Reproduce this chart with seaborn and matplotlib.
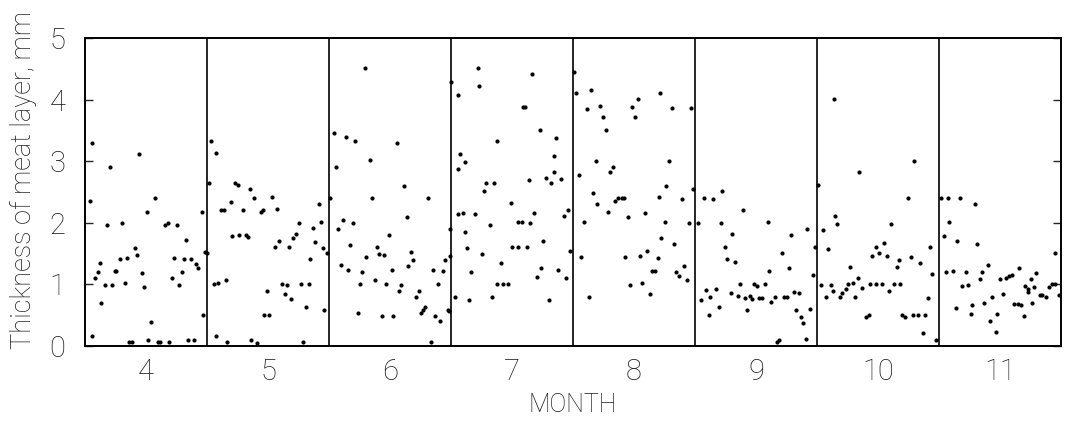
import numpy as np
import pandas as pd
import matplotlib
matplotlib.use("Agg")
import matplotlib.pyplot as plt
import seaborn as sns

# ---- data: position within month (fraction of month) and thickness (mm) ----
months = [4, 5, 6, 7, 8, 9, 10, 11]
month_labels = ["4", "5", "6", "7", "8", "9", "10", "11"]
y_ticks = [0, 1, 2, 3, 4, 5]

m4_frac = [0.055, 0.06, 0.04, 0.085, 0.107, 0.126, 0.134, 0.162, 0.181, 0.203,
           0.225, 0.244, 0.258, 0.285, 0.307, 0.326, 0.345, 0.36, 0.389, 0.408,
           0.43, 0.444, 0.468, 0.485, 0.51, 0.52, 0.54, 0.575, 0.595, 0.616,
           0.652, 0.677, 0.685, 0.712, 0.729, 0.753, 0.77, 0.792, 0.808, 0.83,
           0.844, 0.868, 0.89, 0.912, 0.93, 0.959, 0.967, 0.986]
m4_mm = [3.30, 0.16, 2.35, 1.11, 1.20, 1.34, 0.69, 0.99, 1.96, 2.90,
         0.99, 1.21, 1.22, 1.41, 1.99, 1.03, 1.43, 0.06, 0.06, 1.59,
         1.48, 3.11, 1.18, 0.96, 2.17, 0.09, 0.39, 2.41, 0.06, 0.06,
         1.96, 2.00, 0.07, 1.10, 1.43, 1.96, 0.99, 1.20, 1.42, 1.72,
         0.09, 1.41, 0.09, 1.33, 1.26, 2.17, 0.50, 1.52]

m5_frac = [0.00, 0.033, 0.073, 0.019, 0.228, 0.25, 0.193, 0.117, 0.136, 0.353,
           0.389, 0.293, 0.44, 0.457, 0.535, 0.573, 0.916, 0.75, 0.932, 0.872,
           0.209, 0.266, 0.318, 0.334, 0.731, 0.704, 0.592, 0.554, 0.674, 0.889,
           0.948, 0.984, 0.848, 0.054, 0.092, 0.152, 0.611, 0.652, 0.772, 0.832,
           0.495, 0.639, 0.69, 0.81, 0.96, 0.467, 0.51, 0.073, 0.168, 0.364,
           0.41, 0.788]
m5_mm = [1.51, 3.33, 3.13, 2.65, 2.65, 2.61, 2.34, 2.21, 2.21, 2.55,
         2.41, 2.20, 2.18, 2.21, 2.42, 2.23, 2.30, 2.00, 2.01, 1.91,
         1.78, 1.80, 1.80, 1.77, 1.82, 1.76, 1.70, 1.61, 1.61, 1.69,
         1.59, 1.51, 1.41, 1.01, 1.02, 1.07, 1.01, 0.99, 1.00, 1.00,
         0.89, 0.85, 0.76, 0.64, 0.59, 0.50, 0.50, 0.17, 0.07, 0.09,
         0.05, 0.06]

m6_frac = [0.296, 0.041, 0.139, 0.217, 0.557, 0.332, 0.057, 0.011, 0.356, 0.611,
           0.81, 0.636, 0.117, 0.196, 0.073, 0.492, 0.174, 0.391, 0.413, 0.454,
           0.307, 0.671, 0.69, 0.095, 0.152, 0.269, 0.516, 0.649, 0.851, 0.935,
           0.948, 0.989, 0.375, 0.255, 0.47, 0.592, 0.891, 0.573, 0.736, 0.715,
           0.785, 0.769, 0.75, 0.236, 0.435, 0.527, 0.872, 0.91, 0.973, 0.986,
           0.837, 0.995]
m6_mm = [4.52, 3.45, 3.40, 3.33, 3.30, 3.02, 2.91, 2.40, 2.40, 2.60,
         2.40, 2.09, 2.04, 1.99, 1.90, 1.81, 1.64, 1.60, 1.49, 1.48,
         1.44, 1.53, 1.40, 1.32, 1.24, 1.20, 1.24, 1.30, 1.24, 1.21,
         1.40, 1.46, 1.07, 1.01, 1.00, 0.99, 1.01, 0.89, 0.90, 0.79,
         0.63, 0.59, 0.53, 0.54, 0.49, 0.49, 0.49, 0.40, 0.59, 0.57,
         0.07, 1.90]

m7_frac = [0.0, 0.218, 0.226, 0.668, 0.06, 0.594, 0.61, 0.728, 0.864, 0.373,
           0.076, 0.112, 0.06, 0.847, 0.845, 0.779, 0.823, 0.902, 0.638, 0.286,
           0.349, 0.272, 0.493, 0.057, 0.095, 0.196, 0.684, 0.924, 0.962, 0.316,
           0.548, 0.578, 0.649, 0.112, 0.752, 0.134, 0.253, 0.504, 0.553, 0.621,
           0.975, 0.406, 0.163, 0.738, 0.703, 0.88, 0.943, 0.381, 0.43, 0.469,
           0.035, 0.15, 0.332, 0.804]
m7_mm = [4.28, 4.51, 4.22, 4.41, 4.08, 3.88, 3.88, 3.51, 3.38, 3.33,
         3.12, 2.98, 2.88, 3.09, 2.82, 2.72, 2.64, 2.71, 2.70, 2.65,
         2.65, 2.51, 2.32, 2.15, 2.16, 2.15, 2.16, 2.11, 2.21, 1.97,
         2.01, 2.01, 1.99, 1.85, 1.70, 1.59, 1.50, 1.61, 1.60, 1.60,
         1.54, 1.34, 1.20, 1.26, 1.12, 1.23, 1.11, 1.01, 1.01, 1.01,
         0.80, 0.74, 0.80, 0.75]

m8_frac = [0.008, 0.025, 0.148, 0.533, 0.713, 0.115, 0.221, 0.486, 0.814, 0.967,
           0.243, 0.508, 0.268, 0.186, 0.787, 0.328, 0.303, 0.049, 0.765, 0.986,
           0.164, 0.199, 0.347, 0.372, 0.399, 0.415, 0.708, 0.893, 0.29, 0.448,
           0.59, 0.09, 0.751, 0.948, 0.724, 0.825, 0.609, 0.068, 0.429, 0.549,
           0.697, 0.913, 0.648, 0.672, 0.842, 0.869, 0.934, 0.47, 0.563, 0.628,
           0.128]
m8_mm = [4.44, 4.11, 4.16, 4.01, 4.10, 3.84, 3.89, 3.88, 3.87, 3.87,
         3.71, 3.72, 3.50, 3.00, 3.01, 2.90, 2.82, 2.77, 2.60, 2.55,
         2.49, 2.30, 2.35, 2.40, 2.41, 2.41, 2.42, 2.39, 2.17, 2.10,
         2.16, 2.01, 2.01, 2.00, 1.75, 1.66, 1.55, 1.45, 1.44, 1.46,
         1.43, 1.30, 1.21, 1.22, 1.20, 1.13, 1.07, 0.99, 1.02, 0.85,
         0.79]

m9_frac = [0.071, 0.148, 0.224, 0.025, 0.21, 0.391, 0.596, 0.306, 0.787, 0.918,
           0.243, 0.262, 0.331, 0.71, 0.768, 0.984, 0.604, 0.97, 0.369, 0.484,
           0.511, 0.571, 0.087, 0.172, 0.292, 0.049, 0.126, 0.355, 0.41, 0.448,
           0.47, 0.527, 0.549, 0.623, 0.653, 0.732, 0.757, 0.811, 0.852, 0.194,
           0.429, 0.828, 0.112, 0.866, 0.888, 0.943, 0.91, 0.675, 0.689]
m9_mm = [2.40, 2.39, 2.52, 2.00, 2.00, 2.21, 2.01, 1.82, 1.81, 1.90,
         1.60, 1.42, 1.37, 1.51, 1.26, 1.60, 1.21, 1.15, 1.00, 1.01,
         0.97, 1.01, 0.91, 0.92, 0.86, 0.74, 0.80, 0.81, 0.78, 0.81,
         0.77, 0.78, 0.78, 0.72, 0.79, 0.80, 0.79, 0.87, 0.86, 0.63,
         0.59, 0.59, 0.51, 0.47, 0.38, 0.60, 0.12, 0.07, 0.10]

m10_frac = [0.008, 0.137, 0.342, 0.792, 0.743, 0.15, 0.167, 0.049, 0.607, 0.09,
            0.549, 0.486, 0.51, 0.451, 0.57, 0.669, 0.77, 0.926, 0.27, 0.653,
            0.844, 0.945, 0.333, 0.03, 0.112, 0.295, 0.251, 0.434, 0.481, 0.536,
            0.634, 0.683, 0.372, 0.128, 0.235, 0.208, 0.189, 0.074, 0.314, 0.59,
            0.907, 0.404, 0.426, 0.699, 0.724, 0.784, 0.825, 0.885, 0.869, 0.978]
m10_mm = [2.61, 4.01, 2.82, 3.01, 2.41, 2.11, 1.98, 1.89, 1.98, 1.58,
          1.67, 1.61, 1.51, 1.46, 1.46, 1.39, 1.45, 1.60, 1.29, 1.29,
          1.34, 1.17, 1.10, 0.99, 0.99, 1.02, 1.00, 1.01, 1.01, 1.01,
          1.00, 1.01, 0.94, 0.90, 0.92, 0.86, 0.80, 0.80, 0.80, 0.90,
          0.78, 0.47, 0.51, 0.51, 0.47, 0.51, 0.51, 0.51, 0.21, 0.10]

m11_frac = [0.016, 0.074, 0.169, 0.292, 0.085, 0.038, 0.150, 0.314, 0.948, 0.399,
            0.057, 0.112, 0.219, 0.352, 0.656, 0.339, 0.497, 0.549, 0.571, 0.598,
            0.191, 0.235, 0.798, 0.751, 0.702, 0.727, 0.732, 0.781, 0.828, 0.842,
            0.880, 0.902, 0.926, 0.948, 0.981, 0.525, 0.437, 0.369, 0.270, 0.137,
            0.617, 0.645, 0.672, 0.765, 0.473, 0.260, 0.418, 0.697, 0.464]
m11_mm = [2.41, 2.41, 2.40, 2.31, 2.01, 1.78, 1.71, 1.65, 1.51, 1.31,
          1.20, 1.21, 1.20, 1.20, 1.27, 1.08, 1.08, 1.10, 1.13, 1.15,
          0.97, 0.99, 1.18, 1.08, 0.97, 0.93, 0.88, 0.95, 0.82, 0.83,
          0.79, 0.95, 1.01, 1.01, 0.82, 0.85, 0.80, 0.70, 0.67, 0.61,
          0.68, 0.68, 0.66, 0.70, 0.52, 0.52, 0.41, 0.49, 0.22]

frac_lists = [m4_frac, m5_frac, m6_frac, m7_frac, m8_frac, m9_frac, m10_frac, m11_frac]
mm_lists = [m4_mm, m5_mm, m6_mm, m7_mm, m8_mm, m9_mm, m10_mm, m11_mm]

rows = []
for m, fr, mm in zip(months, frac_lists, mm_lists):
    for f, v in zip(fr, mm):
        rows.append({"month": m, "pos": m - 0.5 + f, "mm": v})
df = pd.DataFrame(rows)

# ---- plot ----
sns.set_style("ticks")
plt.rcParams["font.family"] = ["Roboto", "DejaVu Sans"]
plt.rcParams["font.weight"] = "light"

fig = plt.figure(figsize=(10.67, 4.22), dpi=100)
ax = fig.add_axes([85 / 1067, 1 - 346 / 422, (1061 - 85) / 1067, (346 - 38) / 422])

sns.scatterplot(data=df, x="pos", y="mm", ax=ax, color="black", s=9,
                linewidth=0, legend=False)

for b in np.arange(4.5, 11.5, 1.0):
    ax.axvline(b, color="black", lw=1.2)

ax.set_xlim(3.5, 11.5)
ax.set_ylim(0, 5)
ax.set_xticks(months)
ax.set_xticklabels(month_labels, fontsize=21, color="#1a1a1a", fontweight="light")
ax.set_yticks(y_ticks)
ax.set_yticklabels([str(t) for t in y_ticks], fontsize=21, color="#1a1a1a",
                   fontweight="light")
ax.tick_params(axis="x", length=0, pad=9)
ax.tick_params(axis="y", direction="in", length=6, width=1.0, right=True, pad=14)
for sp in ax.spines.values():
    sp.set_linewidth(1.4)
    sp.set_color("black")

ax.set_xlabel("MONTH", fontsize=18, color="#1a1a1a", labelpad=5, fontweight="light")
ax.set_ylabel("Thickness of meat layer, mm", fontsize=19.5, color="#1a1a1a",
              fontweight="light")
ax.yaxis.set_label_coords(-0.049, 0.54)

fig.savefig("out.png", dpi=100)
